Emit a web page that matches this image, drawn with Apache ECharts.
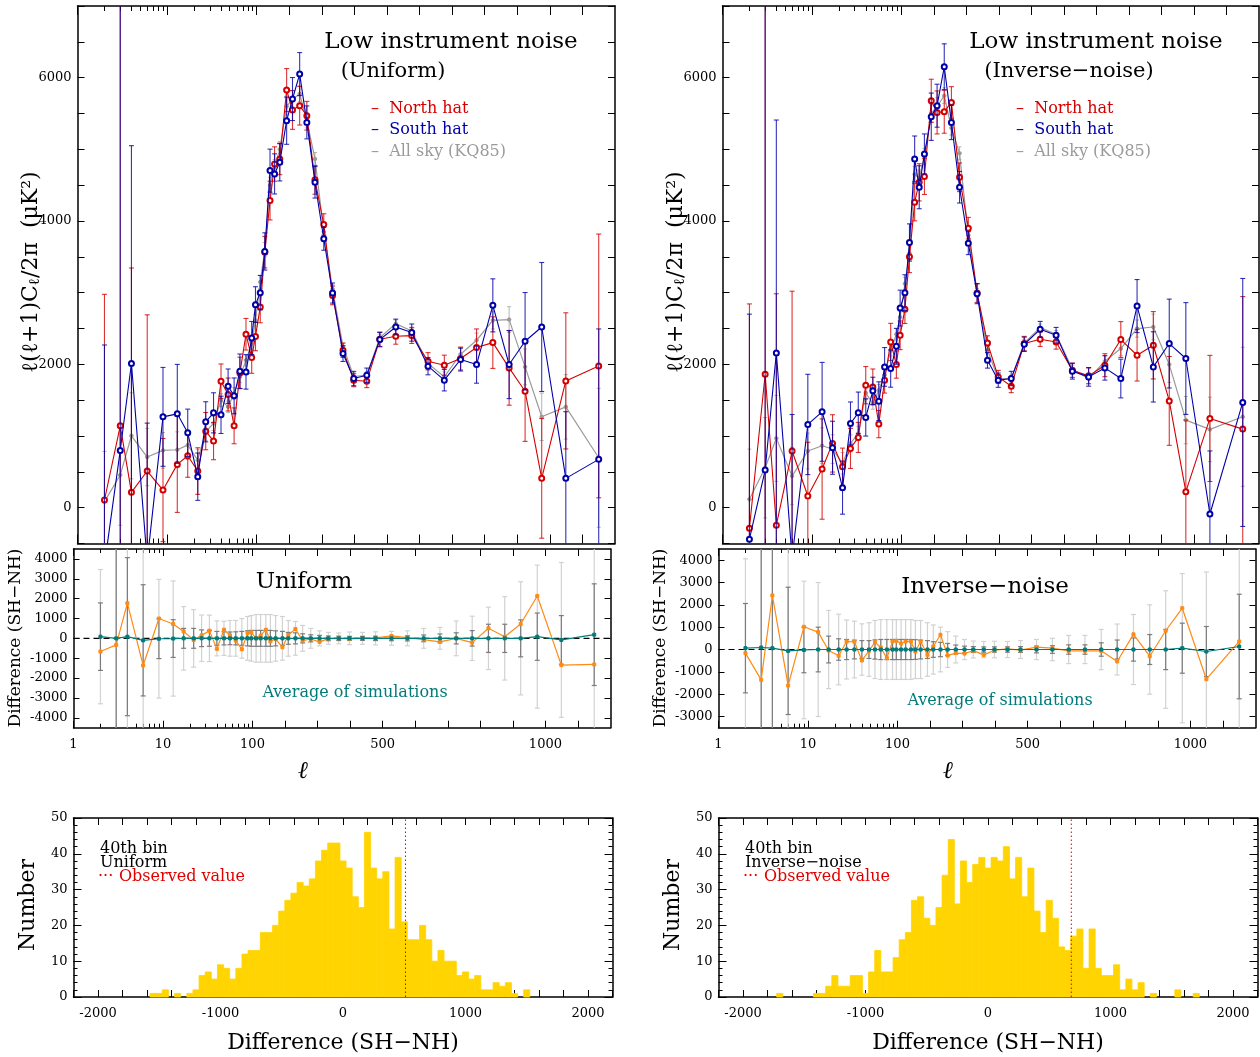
<!DOCTYPE html>
<html lang="en">
<head>
<meta charset="UTF-8">
<title>North / South hemisphere power spectra</title>
<style>
  html, body { margin: 0; padding: 0; background: #fff; }
  #chart { width: 1260px; height: 1057px; }
</style>
</head>
<body>
<div id="chart"></div>
<script src="https://cdn.jsdelivr.net/npm/echarts@6/dist/echarts.min.js"></script>
<script>
// multipole bin centres
const ell = [2, 3, 4, 6, 9, 13, 17, 22, 27, 33, 40, 48, 56, 65, 76, 88, 97, 111, 125, 141, 155, 171, 192, 210, 232, 254, 279, 306, 333, 365, 398, 438, 478, 527, 576, 626, 676, 726, 775, 825, 875, 924, 975, 1049, 1150];

// --- uniform weighting, l(l+1)Cl/2pi
const northUni = [107, 1142, 214, 511, 246, 604, 724, 511, 1068, 929, 1765, 1579, 1142, 1880, 2420, 2095, 2390, 2800, 3565, 4285, 4795, 4866, 5827, 5549, 5609, 5469, 4574, 3951, 2962, 2196, 1778, 1765, 2350, 2391, 2401, 2043, 1988, 2081, 2234, 2303, 1950, 1625, 409, 1769, 1978];
const northUniErr = [2870, 8000, 3130, 2180, 720, 670, 300, 325, 260, 260, 240, 230, 250, 220, 220, 220, 200, 220, 220, 270, 240, 220, 300, 270, 270, 200, 200, 150, 130, 100, 90, 90, 100, 110, 110, 120, 140, 160, 260, 360, 520, 700, 835, 950, 1840];
const southUni = [-800, 799, 2011, -750, 1267, 1309, 1045, 432, 1198, 1323, 1295, 1695, 1560, 1904, 1894, 2368, 2833, 3000, 3575, 4703, 4657, 4819, 5400, 5702, 6050, 5376, 4540, 3752, 2995, 2150, 1802, 1848, 2345, 2521, 2443, 1974, 1779, 2067, 1997, 2823, 1997, 2322, 2521, 409, 674];
const southUniErr = [3070, 8000, 3040, 1930, 690, 690, 330, 330, 280, 280, 260, 240, 250, 240, 240, 230, 250, 240, 260, 300, 280, 260, 330, 300, 300, 230, 220, 160, 140, 110, 100, 100, 100, 110, 120, 120, 150, 160, 260, 370, 475, 680, 900, 930, 1820];
const allskyUni = [84, 455, 1003, 706, 799, 808, 873, 664, 1059, 1175, 1500, 1407, 1593, 1825, 2057, 2290, 2614, 3148, 3600, 4500, 4750, 5000, 5600, 5700, 5772, 5400, 4866, 3850, 3050, 2250, 1830, 1850, 2370, 2568, 2465, 2011, 1825, 2141, 2336, 2614, 2624, 1964, 1268, 1407, 696];
const allskyErr = [700, 700, 600, 400, 250, 250, 200, 150, 120, 100, 90, 80, 80, 80, 80, 80, 80, 90, 100, 110, 110, 110, 120, 120, 110, 100, 90, 70, 60, 50, 50, 50, 50, 50, 55, 60, 70, 80, 100, 120, 180, 250, 330, 450, 970];

// --- inverse-noise weighting
const northInv = [-287, 1862, -245, 790, 163, 539, 897, 571, 827, 980, 1709, 1685, 1166, 1779, 2312, 1997, 2405, 2770, 3500, 4262, 4540, 4620, 5678, 5515, 5525, 5655, 4610, 3900, 2995, 2298, 1825, 1695, 2290, 2350, 2312, 1918, 1839, 1988, 2346, 2127, 2266, 1490, 223, 1245, 1096];
const northInvErr = [3130, 8000, 3230, 2230, 750, 700, 400, 260, 280, 210, 260, 250, 190, 180, 260, 190, 200, 200, 220, 260, 260, 250, 300, 300, 300, 220, 200, 150, 130, 100, 90, 90, 100, 100, 100, 100, 110, 160, 250, 360, 470, 620, 1000, 880, 1850];
const southInv = [-440, 525, 2159, -700, 1161, 1337, 836, 279, 1175, 1323, 1259, 1630, 1486, 1964, 1941, 2252, 2785, 3000, 3700, 4866, 4471, 4935, 5455, 5609, 6152, 5376, 4471, 3691, 2986, 2057, 1779, 1802, 2280, 2489, 2405, 1904, 1825, 1950, 1802, 2813, 1964, 2290, 2081, -88, 1468];
const southInvErr = [3140, 8000, 3250, 2000, 700, 690, 370, 370, 300, 290, 260, 190, 270, 270, 260, 250, 250, 250, 260, 320, 300, 280, 330, 300, 320, 240, 220, 160, 140, 110, 100, 100, 100, 110, 110, 110, 130, 170, 270, 370, 490, 620, 780, 880, 1730];
const allskyInv = [117, 557, 967, 441, 790, 864, 818, 618, 897, 1036, 1602, 1454, 1639, 1848, 2196, 2419, 2660, 3125, 3550, 4650, 4600, 4900, 5500, 5600, 5748, 5300, 4944, 3800, 3000, 2200, 1800, 1800, 2300, 2512, 2419, 1930, 1800, 2043, 2220, 2499, 2521, 1997, 1221, 1092, 1268];

// --- differences SH-NH, observed and mean of simulations, with 1 and 2 sigma bars
const diffUni = [-665, -330, 1770, -1365, 1000, 720, 350, -80, 150, 385, -530, 435, 150, -115, -550, 270, 300, 0, 135, 435, -150, -30, -450, 170, 470, -115, -30, -180, -15, 0, -30, 0, 20, 120, 35, -65, -180, 0, -215, 510, 85, 720, 2135, -1350, -1315];
const simUni = [85, 0, 85, -100, -20, -10, 0, 0, 5, 0, 0, 0, 0, 0, 0, 0, 0, 0, 0, 0, 0, 0, 0, 0, 0, 0, 0, 0, 0, 0, 0, 0, 0, 0, 0, 0, 0, 0, 0, 0, 0, 0, 85, -80, 185];
const sig1Uni = [1700, 6000, 3980, 2800, 1000, 950, 500, 500, 420, 400, 350, 330, 320, 330, 350, 380, 400, 400, 400, 400, 400, 380, 350, 300, 280, 230, 180, 150, 120, 110, 100, 100, 110, 120, 130, 170, 220, 280, 390, 710, 710, 930, 1190, 1225, 2560];
const sig2Uni = [3380, 6000, 6000, 6000, 2990, 2900, 1600, 1450, 1170, 1170, 880, 860, 900, 900, 1000, 1100, 1150, 1200, 1200, 1200, 1200, 1150, 1100, 900, 850, 650, 500, 380, 300, 270, 320, 300, 330, 350, 380, 500, 550, 875, 1115, 1570, 2100, 2850, 3600, 3900, 6000];

const diffInv = [-160, -1357, 2420, -1612, 1017, 780, -45, -280, 360, 345, -490, -60, 330, 90, -385, 360, 390, 270, 360, 360, -90, 360, -240, 135, 660, -270, -160, -180, -50, -240, -30, 30, -30, 105, 60, -60, -60, -60, -535, 680, -300, 840, 1850, -1330, 360];
const simInv = [60, 90, 60, -60, -20, 0, 0, 0, 0, 0, 0, 0, 0, 0, 0, 0, 0, 0, 0, 0, 0, 0, 0, 0, 0, 0, 0, 0, 0, 0, 0, 0, 0, 0, 0, 0, 0, 0, 0, 0, 0, 0, 60, -90, 135];
const sig1Inv = [2000, 6000, 4500, 2850, 1020, 1000, 600, 480, 450, 420, 400, 400, 430, 450, 450, 450, 450, 450, 450, 450, 440, 420, 400, 350, 320, 270, 200, 150, 130, 120, 120, 120, 130, 150, 170, 210, 210, 300, 425, 520, 670, 900, 1120, 1120, 2340];
const sig2Inv = [4000, 6000, 6000, 6000, 3080, 3000, 1750, 1580, 1320, 1270, 1150, 1200, 1300, 1340, 1340, 1340, 1340, 1340, 1340, 1340, 1300, 1300, 1200, 1100, 1000, 800, 600, 450, 380, 360, 370, 360, 400, 450, 500, 630, 630, 900, 1140, 1570, 2000, 2630, 3340, 3560, 6000];

// --- histograms of the simulated 40th-bin difference
const histCenters = [-1700, -1650, -1600, -1550, -1500, -1450, -1400, -1350, -1300, -1250, -1200, -1150, -1100, -1050, -1000, -950, -900, -850, -800, -750, -700, -650, -600, -550, -500, -450, -400, -350, -300, -250, -200, -150, -100, -50, 0, 50, 100, 150, 200, 250, 300, 350, 400, 450, 500, 550, 600, 650, 700, 750, 800, 850, 900, 950, 1000, 1050, 1100, 1150, 1200, 1250, 1300, 1350, 1400, 1450, 1500, 1550, 1600, 1650, 1700];
const histUni = [0, 0, 0, 1, 1, 2, 0, 1, 0, 1, 2, 6, 7, 5, 9, 8, 5, 8, 12, 13, 13, 18, 18, 20, 24, 27, 29, 32, 31, 33, 38, 41, 43, 43, 38, 36, 28, 25, 46, 36, 33, 35, 19, 39, 21, 16, 16, 20, 16, 10, 13, 10, 10, 6, 7, 5, 6, 2, 2, 4, 3, 4, 1, 0, 2, 0, 0, 0, 0];
const histInv = [1, 0, 0, 0, 0, 0, 1, 1, 3, 6, 3, 3, 6, 6, 1, 7, 13, 7, 7, 11, 16, 18, 27, 28, 22, 20, 25, 34, 44, 26, 38, 32, 37, 39, 36, 39, 38, 42, 33, 39, 28, 36, 24, 18, 27, 22, 14, 13, 17, 19, 8, 19, 8, 6, 6, 9, 2, 5, 2, 4, 0, 1, 0, 0, 0, 2, 0, 0, 1];
const histBinWidth = 50;
const binIndex = 39; // 40th bin

// tick labels
const ellMajorTicks = [1, 10, 100, 200, 300, 400, 500, 600, 700, 800, 900, 1000, 1100];
const ellMinorTicks = [2, 3, 4, 5, 6, 7, 8, 9, 20, 30, 40, 50, 60, 70, 80, 90];
const ellLabels = [1, 10, 100, 500, 1000];
const powerLabels = [0, 2000, 4000, 6000];
const diffUniLabels = [-4000, -3000, -2000, -1000, 0, 1000, 2000, 3000, 4000];
const diffInvLabels = [-3000, -2000, -1000, 0, 1000, 2000, 3000, 4000];
const histXLabels = [-2000, -1000, 0, 1000, 2000];
const histYLabels = [0, 10, 20, 30, 40, 50];

const FONT = 'DejaVu Serif';
const RED = '#d40000', BLUE = '#0000a8', GREY = '#9a9a9a';

// log in l up to 100, linear above
const LIN = 275;
function lpos(l) { return l <= 100 ? Math.log10(l) : 2 + (l - 100) / LIN; }
function ellLabel(v) {
  const l = ellLabels.find(x => Math.abs(lpos(x) - v) < 1e-6);
  return l === undefined ? '' : String(l);
}
function plain(v) { return String(Math.round(v)); }
function range(a, b, s) { const r = []; for (let v = a; v <= b + 1e-9; v += s) r.push(v); return r; }

const grids = [
  {left: 77.5, top: 6, width: 537.5, height: 537.5},
  {left: 73.5, top: 549, width: 537, height: 178.7},
  {left: 73.5, top: 818, width: 539, height: 179},
  {left: 722.5, top: 6, width: 536.5, height: 537.5},
  {left: 718.5, top: 549, width: 537, height: 178.7},
  {left: 718.5, top: 818, width: 539, height: 179}
];

const xAxes = [], yAxes = [];
function addAxes(store, dim, grid, min, max, groups, labels, fmt) {
  const sides = dim === 'x' ? ['bottom', 'top'] : ['left', 'right'];
  const first = store.length;
  sides.forEach((side, si) => {
    groups.forEach((g, gi) => {
      const showLabel = si === 0 && gi === 0 && labels;
      store.push({
        type: 'value', gridIndex: grid, min: min, max: max, position: side,
        axisLine: {show: gi === 0, onZero: false, lineStyle: {color: '#000', width: 1.5}},
        axisTick: {show: true, inside: true, length: g.len, customValues: g.ticks, lineStyle: {color: '#000', width: 1}},
        axisLabel: showLabel ? {
          show: true, customValues: labels, formatter: fmt || plain, color: '#000',
          fontFamily: FONT, fontSize: 13, margin: dim === 'x' ? 10 : 6
        } : {show: false},
        splitLine: {show: false}
      });
    });
  });
  return first;
}

const ellTickGroups = (maj, mnr) => [
  {ticks: ellMajorTicks.map(lpos), len: maj},
  {ticks: ellMinorTicks.map(lpos), len: mnr}
];

const ax = {};
[0, 3].forEach(g => {
  ax[g] = {
    x: addAxes(xAxes, 'x', g, 0, 6, ellTickGroups(9, 5), null),
    y: addAxes(yAxes, 'y', g, -500, 7000, [{ticks: range(-500, 7000, 500), len: 7}], powerLabels)
  };
});
ax[1] = {
  x: addAxes(xAxes, 'x', 1, 0, 6, ellTickGroups(7, 4), ellLabels.map(lpos), ellLabel),
  y: addAxes(yAxes, 'y', 1, -4500, 4500, [{ticks: range(-4000, 4000, 1000), len: 6}], diffUniLabels)
};
ax[4] = {
  x: addAxes(xAxes, 'x', 4, 0, 6, ellTickGroups(7, 4), ellLabels.map(lpos), ellLabel),
  y: addAxes(yAxes, 'y', 4, -3500, 4500, [{ticks: range(-3000, 4000, 1000), len: 6}], diffInvLabels)
};
[2, 5].forEach(g => {
  ax[g] = {
    x: addAxes(xAxes, 'x', g, -2200, 2200, [{ticks: range(-2200, 2200, 200), len: 7}], histXLabels),
    y: addAxes(yAxes, 'y', g, 0, 50, [{ticks: range(0, 50, 10), len: 8}, {ticks: range(0, 50, 2), len: 4}], histYLabels)
  };
});

// vertical error bars, clamped to the axis range
function errBars(g, vals, errs, color, cap, width, opacity, ymin, ymax, z) {
  return {
    type: 'custom', xAxisIndex: ax[g].x, yAxisIndex: ax[g].y, z: z,
    data: ell.map((l, i) => [lpos(l), vals[i], errs[i]]),
    encode: {x: 0, y: 1},
    renderItem: function (params, api) {
      const x = api.value(0), y = api.value(1), e = api.value(2);
      const hi = Math.min(y + e, ymax), lo = Math.max(y - e, ymin);
      if (hi <= lo) return null;
      const p1 = api.coord([x, hi]), p2 = api.coord([x, lo]);
      const st = {stroke: color, lineWidth: width, opacity: opacity};
      const kids = [{type: 'line', shape: {x1: p1[0], y1: p1[1], x2: p2[0], y2: p2[1]}, style: st}];
      if (y + e <= ymax) kids.push({type: 'line', shape: {x1: p1[0] - cap, y1: p1[1], x2: p1[0] + cap, y2: p1[1]}, style: st});
      if (y - e >= ymin) kids.push({type: 'line', shape: {x1: p2[0] - cap, y1: p2[1], x2: p2[0] + cap, y2: p2[1]}, style: st});
      return {type: 'group', children: kids};
    }
  };
}

function points(g, vals, color, symbol, size, width, z) {
  return {
    type: 'line', xAxisIndex: ax[g].x, yAxisIndex: ax[g].y, z: z, clip: true,
    data: ell.map((l, i) => [lpos(l), vals[i]]),
    symbol: symbol, symbolSize: size, showAllSymbol: true,
    itemStyle: {color: color, borderColor: color, borderWidth: 1},
    lineStyle: {color: color, width: width}
  };
}

function powerPanel(g, north, nErr, south, sErr, all) {
  return [
    errBars(g, all, allskyErr, '#b4b4b4', 2, 1, 1, -500, 7000, 1),
    points(g, all, GREY, 'circle', 3.5, 1.2, 2),
    errBars(g, north, nErr, RED, 2.5, 1.1, 0.8, -500, 7000, 3),
    points(g, north, RED, 'emptyCircle', 5, 1.1, 4),
    errBars(g, south, sErr, BLUE, 2.5, 1.1, 0.8, -500, 7000, 5),
    points(g, south, BLUE, 'emptyCircle', 5, 1.1, 6)
  ];
}

function diffPanel(g, diff, sim, s1, s2, ymin, ymax) {
  return [
    errBars(g, sim, s2, '#d2d2d2', 2.5, 1.2, 1, ymin, ymax, 1),
    errBars(g, sim, s1, '#7c7c7c', 2.5, 1.2, 1, ymin, ymax, 2),
    {
      type: 'line', xAxisIndex: ax[g].x, yAxisIndex: ax[g].y, z: 3, symbol: 'none',
      data: [[0, 0], [6, 0]], lineStyle: {color: '#000', width: 1.2, type: [6, 4]}
    },
    points(g, diff, '#ff8a14', 'rect', 3, 1.2, 4),
    points(g, sim, '#007a7a', 'rect', 3, 1.2, 5)
  ];
}

function histPanel(g, counts, obs) {
  return [
    {
      type: 'custom', xAxisIndex: ax[g].x, yAxisIndex: ax[g].y, z: 1,
      data: histCenters.map((c, i) => [c, counts[i]]),
      encode: {x: 0, y: 1},
      renderItem: function (params, api) {
        const c = api.value(0), n = api.value(1);
        if (!n) return null;
        const a = api.coord([c - histBinWidth / 2, n]), b = api.coord([c + histBinWidth / 2, 0]);
        return {
          type: 'rect',
          shape: {x: a[0], y: a[1], width: b[0] - a[0], height: b[1] - a[1]},
          style: {fill: '#ffd400', stroke: '#ffd400', lineWidth: 0.8}
        };
      }
    },
    {
      type: 'line', xAxisIndex: ax[g].x, yAxisIndex: ax[g].y, z: 2, symbol: 'none',
      data: [[obs, 0], [obs, 50]], lineStyle: {color: '#e00000', width: 1, type: [1.5, 2.5]}
    }
  ];
}

const series = [].concat(
  powerPanel(0, northUni, northUniErr, southUni, southUniErr, allskyUni),
  powerPanel(3, northInv, northInvErr, southInv, southInvErr, allskyInv),
  diffPanel(1, diffUni, simUni, sig1Uni, sig2Uni, -4500, 4500),
  diffPanel(4, diffInv, simInv, sig1Inv, sig2Inv, -3500, 4500),
  histPanel(2, histUni, diffUni[binIndex]),
  histPanel(5, histInv, diffInv[binIndex])
);

function t(x, y, text, size, color, extra) {
  return Object.assign({
    type: 'text', x: x, y: y, z: 100,
    style: {text: text, fill: color || '#000', font: size + 'px "' + FONT + '"', align: 'center', verticalAlign: 'middle'}
  }, extra || {});
}
function tl(x, y, text, size, color) {
  const e = t(x, y, text, size, color);
  e.style.align = 'left';
  return e;
}
const ylabelPower = {
  text: 'ℓ(ℓ+1)C{s|ℓ}/2π  (μK²)',
  rich: {s: {fontSize: 15, fontFamily: FONT, verticalAlign: 'bottom', padding: [9, 0, 0, 0]}}
};

const graphic = [];
[[0, 'Uniform', 393], [645, 'Inverse−noise', 1069]].forEach(([dx, name, subX]) => {
  graphic.push(t(451 + dx, 42, 'Low instrument noise', 23));
  graphic.push(t(subX, 72, '(' + name + ')', 21));
  graphic.push(tl(371 + dx, 109, '–  North hat', 16, RED));
  graphic.push(tl(371 + dx, 130, '–  South hat', 16, BLUE));
  graphic.push(tl(371 + dx, 152, '–  All sky (KQ85)', 16, GREY));
  const yl = t(31 + dx, 272, '', 22, '#000', {rotation: Math.PI / 2});
  Object.assign(yl.style, ylabelPower);
  graphic.push(yl);
  graphic.push(t(16 + dx, 638, 'Difference (SH−NH)', 17, '#000', {rotation: Math.PI / 2}));
  graphic.push(t(dx === 0 ? 304 : 985, dx === 0 ? 582 : 587, name, 23));
  graphic.push(t(dx === 0 ? 355 : 1000, dx === 0 ? 693 : 701, 'Average of simulations', 16, '#007a7a'));
  graphic.push(t(303 + dx, 772, 'ℓ', 24, '#000', {style: {text: 'ℓ', fill: '#000', font: 'italic 24px "' + FONT + '"', align: 'center', verticalAlign: 'middle'}}));
  graphic.push(t(28 + dx, 905, 'Number', 22, '#000', {rotation: Math.PI / 2}));
  graphic.push(t(343 + dx, 1043, 'Difference (SH−NH)', 22));
  graphic.push(tl(100 + dx, 849, '40th bin', 16));
  graphic.push(tl(100 + dx, 863, name, 16));
  graphic.push(tl(98 + dx, 877, '···', 16, '#e00000'));
  graphic.push(tl(119 + dx, 877, 'Observed value', 16, '#e00000'));
});

const chart = echarts.init(document.getElementById('chart'));
chart.setOption({
  animation: false,
  backgroundColor: '#fff',
  grid: grids,
  xAxis: xAxes,
  yAxis: yAxes,
  series: series,
  graphic: graphic
});
</script>
</body>
</html>
